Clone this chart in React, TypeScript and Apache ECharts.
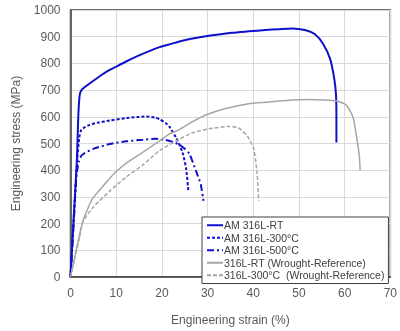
import React, { useEffect, useRef } from "react";
import * as echarts from "echarts";

const seriesNames = [
  "AM 316L-RT",
  "AM 316L-300°C",
  "AM 316L-500°C",
  "316L-RT (Wrought-Reference)",
  "316L-300°C  (Wrought-Reference)",
];

const amRT: [number, number][] = [
  [0, 0], [0.7, 220], [1.4, 440], [1.7, 600], [2.0, 680], [2.4, 700], [3.5, 716], [5, 735],
  [6.4, 752], [8, 770], [10, 788], [12.5, 810], [15, 830], [17.5, 848], [19.5, 861], [22, 873],
  [24.5, 885], [28, 897], [31.5, 906], [35.4, 915], [39, 920], [42.7, 925], [45.5, 928],
  [48.5, 931], [51.3, 925], [53.5, 909], [55.3, 873], [56.8, 818], [57.7, 746], [58.1, 685],
  [58.2, 600], [58.2, 504],
];

const am300: [number, number][] = [
  [0, 0], [0.8, 250], [1.5, 440], [1.9, 520], [2.4, 552], [4.2, 570], [6, 578], [8.6, 586],
  [12.2, 595], [14.5, 599], [16.6, 601], [18.5, 597], [19.5, 591], [20.9, 576], [21.6, 564],
  [23.1, 522], [24.5, 467], [25.3, 407], [25.8, 322],
];

const am500: [number, number][] = [
  [0, 0], [0.7, 200], [1.3, 380], [1.8, 430], [2.4, 455], [3.2, 465], [5, 480], [8.6, 498],
  [12.2, 508], [15.8, 514], [18.5, 518], [20.5, 514], [22, 508], [23.8, 496], [25, 480],
  [26, 462], [27.4, 400], [28.5, 347], [29.1, 285],
];

const wroughtRT: [number, number][] = [
  [0, 0], [1, 80], [2, 160], [2.8, 213], [4, 265], [5, 298], [7.1, 340], [9, 377], [10, 395],
  [12.5, 430], [15.8, 467], [19.5, 510], [21.6, 535], [23.8, 552], [26.5, 580], [29.6, 607],
  [34, 631], [39, 649], [43.4, 655], [48.4, 663], [52, 665], [55.7, 663], [58.2, 659],
  [60.4, 643], [61.8, 600], [62.6, 528], [63.2, 455], [63.4, 400],
];

const wrought300: [number, number][] = [
  [0, 0], [1, 75], [2, 150], [2.8, 210], [5, 262], [8.6, 322], [12.2, 375], [15.8, 419],
  [19.5, 474], [21.6, 495], [23.8, 516], [26.7, 540], [30.3, 555], [34.7, 564], [36.8, 558],
  [38.7, 528], [40.1, 480], [40.8, 395], [41.2, 285],
];

const FONT = "Liberation Sans, Arial, sans-serif";
const BLUE = "#1010CC";
const GRAY = "#A6A6A6";

export default function App() {
  const ref = useRef<HTMLDivElement>(null);
  useEffect(() => {
    if (!ref.current) return;
    const chart = echarts.init(ref.current, undefined, { renderer: "svg" });
    const mk = (name: string, data: [number, number][], color: string, type: any, width: number) => ({
      name,
      type: "line",
      data,
      symbol: "none",
      smooth: 0.2,
      lineStyle: { color, type, width },
      itemStyle: { color },
    });
    chart.setOption({
      animation: false,
      textStyle: { fontFamily: FONT },
      grid: {
        left: 70.5,
        right: 8.5,
        top: 10,
        bottom: 45.5,
        show: true,
        borderColor: "#404040",
        borderWidth: 1.5,
      },
      legend: {
        orient: "vertical",
        left: 202,
        top: 217,
        padding: [2, 4, 2, 4],
        itemWidth: 16,
        itemHeight: 8,
        itemGap: 0,
        borderColor: "#404040",
        borderWidth: 1,
        backgroundColor: "#fff",
        itemStyle: { opacity: 0, borderWidth: 0 },
        textStyle: { fontFamily: FONT, fontSize: 10.5, color: "#404040", lineHeight: 12.5, padding: [0, 0, 0, -4] },
        data: seriesNames,
      },
      xAxis: {
        type: "value",
        min: 0,
        max: 70,
        interval: 10,
        name: "Engineering strain (%)",
        nameLocation: "middle",
        nameGap: 37,
        nameTextStyle: { fontFamily: FONT, fontSize: 12, color: "#595959" },
        axisLine: { show: true, lineStyle: { color: "#404040", width: 1.5 } },
        axisTick: { show: false },
        axisLabel: { fontFamily: FONT, fontSize: 12, color: "#595959", margin: 10, formatter: (v: number) => String(v) },
        splitLine: { show: true, lineStyle: { color: "#D9D9D9", width: 1 } },
      },
      yAxis: {
        type: "value",
        min: 0,
        max: 1000,
        interval: 100,
        name: "Engineering stress (MPa)",
        nameLocation: "middle",
        nameGap: 49,
        nameTextStyle: { fontFamily: FONT, fontSize: 12, color: "#595959" },
        axisLine: { show: true, lineStyle: { color: "#404040", width: 1.5 } },
        axisTick: { show: false },
        axisLabel: { fontFamily: FONT, fontSize: 12, color: "#595959", margin: 10, formatter: (v: number) => String(v) },
        splitLine: { show: true, lineStyle: { color: "#D9D9D9", width: 1 } },
      },
      series: [
        mk(seriesNames[0], amRT, BLUE, "solid", 2),
        mk(seriesNames[1], am300, BLUE, [3, 2], 2),
        mk(seriesNames[2], am500, BLUE, [7, 3, 2, 3], 2),
        mk(seriesNames[3], wroughtRT, GRAY, "solid", 1.5),
        mk(seriesNames[4], wrought300, GRAY, [4, 2], 1.5),
      ],
    });
    return () => chart.dispose();
  }, []);
  return <div ref={ref} style={{ position: "fixed", left: 0, top: 0, width: 400, height: 331 }} />;
}
